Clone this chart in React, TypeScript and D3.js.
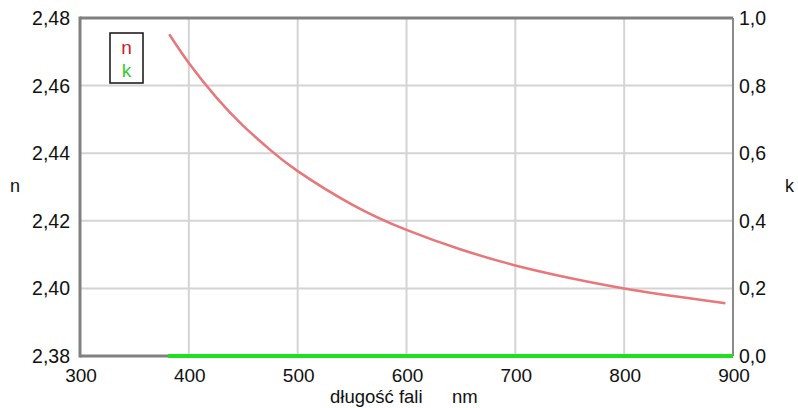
import React from "react";
import * as d3 from "d3";

const wavelengths = [382, 400, 425, 450, 475, 500, 550, 600, 650, 700, 750, 800, 850, 893];
const nValues = [2.4752, 2.4667, 2.4566, 2.4481, 2.4409, 2.4347, 2.4248, 2.4173, 2.4115, 2.4068, 2.4031, 2.4, 2.3975, 2.3956];
const kWavelengths = [381, 900];
const kValues = [0, 0];
const xTicks = [300, 400, 500, 600, 700, 800, 900];
const nTicks = [2.38, 2.4, 2.42, 2.44, 2.46, 2.48];
const kTicks = [0, 0.2, 0.4, 0.6, 0.8, 1.0];

const W = 798, H = 408;
const L = 80, R = 733, T = 18, B = 356;

export default function App() {
  const x = d3.scaleLinear().domain([300, 900]).range([L, R]);
  const yN = d3.scaleLinear().domain([2.38, 2.48]).range([B, T]);
  const yK = d3.scaleLinear().domain([0, 1]).range([B, T]);
  const nLine = d3.line<number>().x((_, i) => x(wavelengths[i])).y((d) => yN(d)).curve(d3.curveNatural)(nValues) || "";
  const kLine = d3.line<number>().x((_, i) => x(kWavelengths[i])).y((d) => yK(d))(kValues) || "";
  const fmt = (v: number, p: number) => v.toFixed(p).replace(".", ",");
  const font = "'Liberation Sans', Arial, sans-serif";
  return (
    <svg width={W} height={H} style={{ position: "absolute", left: 0, top: 0, background: "#fff" }} fontFamily={font}>
      {xTicks.slice(1, -1).map((t) => (
        <line key={"gx" + t} x1={x(t)} x2={x(t)} y1={T} y2={B} stroke="#d4d4d4" strokeWidth={2} />
      ))}
      {nTicks.slice(1, -1).map((t) => (
        <line key={"gy" + t} x1={L} x2={R} y1={yN(t)} y2={yN(t)} stroke="#d4d4d4" strokeWidth={2} />
      ))}
      <line x1={R} x2={R} y1={T} y2={B} stroke="#8a8a8a" strokeWidth={2} />
      <line x1={L} x2={R} y1={T} y2={T} stroke="#808080" strokeWidth={3} />
      <line x1={L} x2={L} y1={T - 1.5} y2={B + 1.5} stroke="#808080" strokeWidth={3} />
      <line x1={L} x2={R} y1={B} y2={B} stroke="#808080" strokeWidth={3} />
      <path d={kLine} fill="none" stroke="#1fe01f" strokeWidth={4} />
      <path d={nLine} fill="none" stroke="#e8767a" strokeWidth={2.5} />
      {nTicks.map((t) => (
        <text key={"ln" + t} x={70} y={yN(t) + 7} textAnchor="end" fontSize={19.5} fill="#111">{fmt(t, 2)}</text>
      ))}
      {kTicks.map((t) => (
        <text key={"rk" + t} x={739} y={yK(t) + 7} textAnchor="start" fontSize={19.5} fill="#111">{fmt(t, 1)}</text>
      ))}
      {xTicks.map((t) => (
        <text key={"bx" + t} x={x(t) + 1} y={382} textAnchor="middle" fontSize={19} fill="#111">{t}</text>
      ))}
      <text x={330} y={403} fontSize={18.5} fill="#111">długość fali</text>
      <text x={452} y={403} fontSize={18.5} fill="#111">nm</text>
      <text x={10} y={192} fontSize={18} fill="#111">n</text>
      <text x={785} y={192} fontSize={18} fill="#111">k</text>
      <rect x={110} y={33} width={33} height={50} fill="#fff" stroke="#111" strokeWidth={1.5} />
      <text x={126.5} y={54} textAnchor="middle" fontSize={19} fill="#c8202a">n</text>
      <text x={126.5} y={77} textAnchor="middle" fontSize={19} fill="#33cc33">k</text>
    </svg>
  );
}
